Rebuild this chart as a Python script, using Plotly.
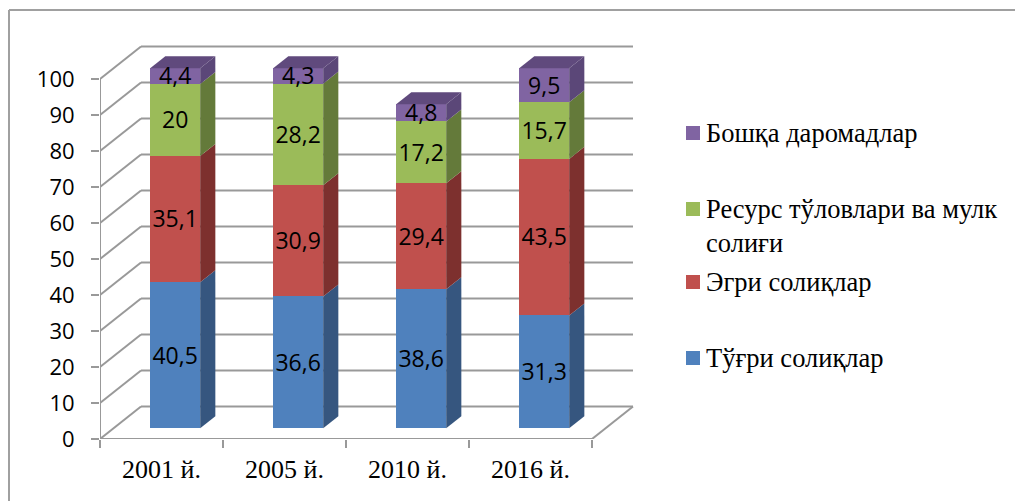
import plotly.graph_objects as go

# ---------------- data ----------------
categories = ["2001 й.", "2005 й.", "2010 й.", "2016 й."]
series_names = ["Тўғри солиқлар", "Эгри солиқлар",
                "Ресурс тўловлари ва мулк солиғи", "Бошқа даромадлар"]
direct_taxes = [40.5, 36.6, 38.6, 31.3]
indirect_taxes = [35.1, 30.9, 29.4, 43.5]
resource_taxes = [20, 28.2, 17.2, 15.7]
other_income = [4.4, 4.3, 4.8, 9.5]
y_ticks = [0, 10, 20, 30, 40, 50, 60, 70, 80, 90, 100]

series_values = [direct_taxes, indirect_taxes, resource_taxes, other_income]

# ---------------- style ----------------
front_colors = ["#4F81BD", "#C0504D", "#9BBB59", "#8064A2"]
side_colors = ["#36567F", "#7D302E", "#647A3A", "#5B4778"]
top_colors = ["#3D6090", "#8C3735", "#71893F", "#604A7D"]
grid_color = "#999999"
SERIF = "Liberation Serif, Times New Roman, serif"
SANS = "Open Sans, Noto Sans, sans-serif"

W_FIG, H_FIG = 1015, 501
L, B, T = 100, 62, 20
CAT_PX = 123.0          # pixels per category
VAL_PX = 3.6            # pixels per value unit
PLOT_W = 560
R = W_FIG - L - PLOT_W
PLOT_H = H_FIG - B - T
XR = PLOT_W / CAT_PX
YR = PLOT_H / VAL_PX

DX = 41 / CAT_PX        # full depth offset (category units)
DY = 32.5 / VAL_PX      # full depth offset (value units)
F0 = 1 / 3              # depth fraction of bar front face
FB = 0.37               # bar depth fraction
BAR_W = 50 / CAT_PX
LABEL_SHIFT = 2.5 / VAL_PX
n = len(categories)

fig = go.Figure()

shapes = []
def line(x0, y0, x1, y1, color=grid_color, width=2):
    shapes.append(dict(type="line", xref="x", yref="y",
                       x0=x0, y0=y0, x1=x1, y1=y1, layer="below",
                       line=dict(color=color, width=width)))

# walls / floor
for t in y_ticks:
    line(DX, t + DY, n + DX, t + DY)        # back wall gridline
    line(0, t, DX, t + DY)                  # side wall line
line(0, 0, n, 0)                            # front floor edge (category axis)
line(n, 0, n + DX, DY)                      # right floor edge
line(0, 0, 0, y_ticks[-1])                  # value axis line

# bars
centers = [i + 0.5 + DX * F0 for i in range(n)]
base0 = DY * F0
bdx = DX * FB
bdy = DY * FB
cum = [0.0] * n
label_x, label_y, label_t = [], [], []
for s, (name, vals) in enumerate(zip(series_names, series_values)):
    bases = [base0 + c for c in cum]
    fig.add_trace(go.Bar(x=centers, y=vals, base=bases, width=BAR_W,
                         marker=dict(color=front_colors[s], line=dict(width=0)),
                         name=name, showlegend=False, hoverinfo="skip"))
    for i in range(n):
        xr = centers[i] + BAR_W / 2
        xl = centers[i] - BAR_W / 2
        y0 = bases[i]
        y1 = bases[i] + vals[i]
        fig.add_trace(go.Scatter(
            x=[xr, xr + bdx, xr + bdx, xr, xr],
            y=[y0, y0 + bdy, y1 + bdy, y1, y0],
            fill="toself", fillcolor=side_colors[s], mode="none",
            showlegend=False, hoverinfo="skip"))
        if s == len(series_names) - 1:
            fig.add_trace(go.Scatter(
                x=[xl, xl + bdx, xr + bdx, xr, xl],
                y=[y1, y1 + bdy, y1 + bdy, y1, y1],
                fill="toself", fillcolor=top_colors[s], mode="none",
                showlegend=False, hoverinfo="skip"))
        label_x.append(centers[i])
        label_y.append((y0 + y1) / 2 - LABEL_SHIFT)
        label_t.append(f"{vals[i]:g}".replace(".", ","))
    cum = [c + v for c, v in zip(cum, vals)]

fig.add_trace(go.Scatter(x=label_x, y=label_y, text=label_t, mode="text",
                         textfont=dict(family=SANS, size=23, color="black"),
                         showlegend=False, hoverinfo="skip"))

# manual legend (Excel-like spacing)
def px_to_paper(px, py):
    return (px - L) / PLOT_W, (H_FIG - B - py) / PLOT_H

legend_rows = [(3, 133), (2, 209), (1, 282), (0, 358)]
annotations = []
LEG_SIZE = 26.5
for s, py in legend_rows:
    sx0, sy0 = px_to_paper(686, py - 7)
    sx1, sy1 = px_to_paper(700, py + 7)
    shapes.append(dict(type="rect", xref="paper", yref="paper",
                       x0=sx0, x1=sx1, y0=sy0, y1=sy1,
                       fillcolor=front_colors[s], line=dict(width=0)))
    tx, ty = px_to_paper(704, py)
    txt = series_names[s]
    if s == 2:
        words = txt.rsplit(" ", 1)
        txt = "<br>".join(words)
        tx, ty = px_to_paper(704, py - 17)
        annotations.append(dict(xref="paper", yref="paper", x=tx, y=ty, text=txt,
                                showarrow=False, xanchor="left", yanchor="top",
                                align="left",
                                font=dict(family=SERIF, size=LEG_SIZE, color="black")))
    else:
        annotations.append(dict(xref="paper", yref="paper", x=tx, y=ty, text=txt,
                                showarrow=False, xanchor="left", yanchor="middle",
                                font=dict(family=SERIF, size=LEG_SIZE, color="black")))

# outer chart border (top and left edges)
bx0, by0 = px_to_paper(9, 10)
bx1, _ = px_to_paper(1015, 10)
_, by1 = px_to_paper(9, 501)
shapes.append(dict(type="line", xref="paper", yref="paper", x0=bx0, y0=by0, x1=bx1, y1=by0,
                   line=dict(color="#A0A0A0", width=2)))
shapes.append(dict(type="line", xref="paper", yref="paper", x0=bx0, y0=by0, x1=bx0, y1=by1,
                   line=dict(color="#A0A0A0", width=2)))

fig.update_layout(
    width=W_FIG, height=H_FIG, autosize=False,
    margin=dict(l=L, r=R, t=T, b=B, pad=0),
    paper_bgcolor="white", plot_bgcolor="white",
    barmode="overlay", bargap=0,
    shapes=shapes, annotations=annotations,
    showlegend=False,
    xaxis=dict(range=[0, XR], tickmode="array",
               tickvals=[i + 0.5 for i in range(n)], ticktext=categories,
               ticks="", showgrid=False, zeroline=False, showline=False,
               tickfont=dict(family=SERIF, size=26, color="black"),
               ticklabelstandoff=12,
               minor=dict(tickmode="array", tickvals=list(range(n + 1)),
                          ticks="outside", ticklen=8, tickwidth=2,
                          tickcolor=grid_color, showgrid=False)),
    yaxis=dict(range=[0, YR], tickmode="array", tickvals=y_ticks,
               ticks="outside", ticklen=8, tickwidth=2, tickcolor=grid_color,
               showgrid=False, zeroline=False, showline=False,
               tickfont=dict(family=SANS, size=22, color="black"),
               ticklabelstandoff=12),
)

fig.write_html("out.html", config={"displayModeBar": False},
               post_script="document.body.style.margin='0';document.body.style.padding='0';")
